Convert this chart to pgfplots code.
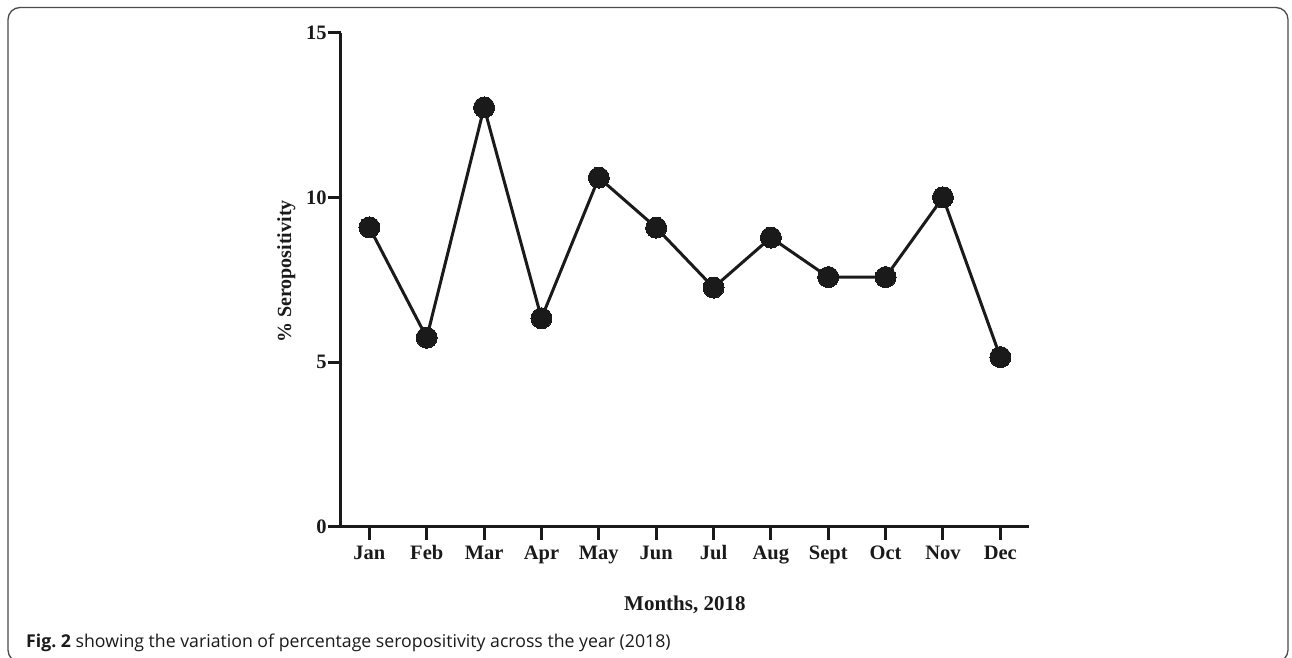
\documentclass[border=0pt]{standalone}
\usepackage{fontspec}
\setmainfont{Liberation Serif}
\newfontfamily\capfont{Open Sans}
\usepackage{pgfplots}
\pgfplotsset{compat=1.18}
\definecolor{ink}{HTML}{1A1A1A}
\begin{document}
\begin{tikzpicture}[x=1pt,y=1pt]
\useasboundingbox (0,0) rectangle (1292,658);
\draw[gray!60!black, line width=1.3pt, rounded corners=12pt] (8,-4) rectangle (1288,650.5);
\begin{axis}[
  at={(340.7pt,131.3pt)}, anchor=south west,
  scale only axis, width=688.3pt, height=494pt,
  xmin=-0.5, xmax=11.5, ymin=0, ymax=15,
  clip=false,
  axis x line=bottom, axis y line=left,
  axis line style={-, line width=3pt, draw=ink},
  ytick={0,5,10,15}, xtick={0,...,11},
  xticklabels={Jan,Feb,Mar,Apr,May,Jun,Jul,Aug,Sept,Oct,Nov,Dec},
  tick align=outside, major tick length=13pt,
  tick style={line width=3pt, draw=ink},
  ticklabel style={font=\fontsize{20.5}{24}\selectfont\bfseries, text=ink},
  /pgf/number format/assume math mode=true,
  yticklabel style={inner sep=1pt},
  xticklabel style={anchor=north, inner sep=0pt, text height=15pt, text depth=5pt, yshift=-5pt},
  xlabel={Months, 2018}, ylabel={\% Seropositivity},
  every axis x label/.style={at={([yshift=-84pt]rel axis cs:0.5,0)}, anchor=base, font=\fontsize{21}{24}\selectfont\bfseries, text=ink},
  every axis y label/.style={at={([xshift=-49.7pt]rel axis cs:0,0.5166)}, rotate=90, anchor=base, font=\fontsize{20}{24}\selectfont\bfseries, text=ink},
]
\addplot[ink, line width=3pt, mark=*, mark size=10.5pt, mark options={solid, fill=ink, draw=ink, line width=0pt}] coordinates {
  (0,9.09) (1,5.74) (2,12.73) (3,6.33) (4,10.6) (5,9.08)
  (6,7.26) (7,8.78) (8,7.58) (9,7.58) (10,10.0) (11,5.15)
};
\end{axis}
\node[anchor=base west, inner sep=0pt, text=ink] at (26,10.7) {\capfont\fontsize{17.7}{21}\selectfont\bfseries Fig.~2 \mdseries showing the variation of percentage seropositivity across the year (2018)};
\end{tikzpicture}
\end{document}
